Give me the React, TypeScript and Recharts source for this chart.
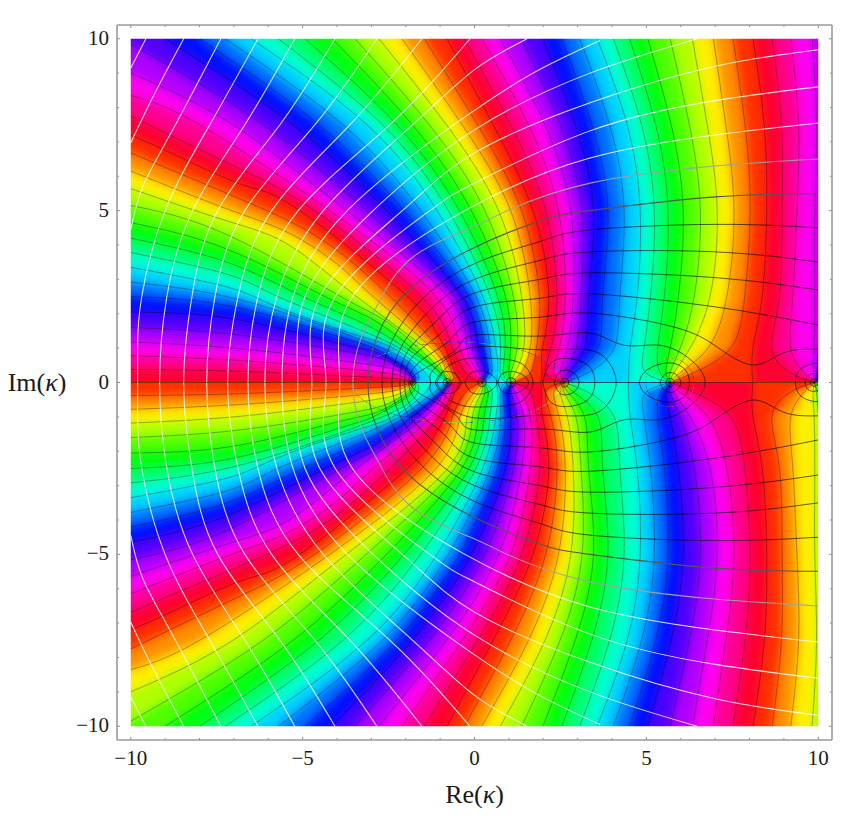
import React from 'react';
import { ScatterChart, Scatter, XAxis, YAxis, Label } from 'recharts';

type P = [number, number];

const tickValues = [-10,-9,-8,-7,-6,-5,-4,-3,-2,-1,0,1,2,3,4,5,6,7,8,9,10];

// unwrapped phase (degrees) of each constant-phase contour in the upper half plane
const contourHues = [202.5,225,247.5,270,292.5,315,337.5,360,382.5,405,427.5,450,472.5,495,517.5,540,562.5,585,607.5,630,652.5,675,697.5,720,742.5,765,787.5,810,832.5,855,877.5,900,922.5,945,967.5,990,1012.5,1035,1057.5,1080,1102.5,1125,1147.5,1170,1192.5,1215,1237.5,1260,1282.5,1305,1327.5,1350,1372.5,1395,1417.5];

const phaseContours: P[][] = [
[[9.88,0],[10,.05]],
[[9.88,0],[10,.12]],
[[9.88,0],[10,.3]],
[[9.88,0],[9.95,.3],[10,.9]],
[[9.88,0],[9.85,.4],[9.88,1],[9.9,2.5],[9.9,5],[9.95,7.5],[9.82,10]],
[[9.88,0],[9.58,.3],[9.2,1],[9.26,2.5],[9.38,5],[9.43,7.5],[9.2,10]],
[[9.88,0],[9.16,.3],[8.65,1],[8.87,2.5],[8.95,5],[8.93,7.5],[8.66,10]],
[[8.1,0],[8.1,1],[8.37,2.5],[8.5,5],[8.43,7.5],[8.1,10]],
[[5.69,0],[6.41,.3],[7.45,1],[7.86,2.5],[8.02,5],[7.87,7.5],[7.52,10]],
[[5.69,0],[6.0,.3],[6.79,1],[7.34,2.5],[7.55,5],[7.31,7.5],[6.95,10]],
[[5.69,0],[5.81,.3],[6.27,1],[6.85,2.5],[7.06,5],[6.77,7.5],[6.34,10]],
[[5.69,0],[5.69,.3],[5.98,1],[6.39,2.5],[6.57,5],[6.25,7.5],[5.69,10]],
[[5.69,0],[5.57,.3],[5.69,1],[5.93,2.5],[6.07,5],[5.72,7.5],[5.04,10]],
[[5.69,0],[5.39,.3],[5.33,1],[5.52,2.5],[5.63,5],[5.27,7.5],[4.51,10]],
[[5.69,0],[4.97,.3],[4.93,1],[5.12,2.5],[5.23,5],[4.86,7.5],[4.04,10]],
[[4.48,0],[4.53,1],[4.73,2.5],[4.82,5],[4.44,7.5],[3.57,10]],
[[2.61,0],[3.33,.3],[4.06,1],[4.23,2.5],[4.35,5],[3.93,7.5],[3.06,10]],
[[2.61,0],[2.91,.3],[3.59,1],[3.73,2.5],[3.88,5],[3.41,7.5],[2.54,10]],
[[2.61,0],[2.73,.3],[3.2,1],[3.32,2.5],[3.46,5],[2.93,7.5],[1.99,10]],
[[2.61,0],[2.61,.3],[2.95,1],[3.1,2.5],[3.13,5],[2.49,7.5],[1.37,10]],
[[2.61,0],[2.49,.3],[2.7,1],[2.87,2.5],[2.8,5],[2.05,7.5],[.75,10]],
[[2.61,0],[2.31,.3],[2.46,1],[2.64,2.5],[2.44,5],[1.57,7.5],[.21,10]],
[[2.61,0],[2.08,.25],[2.22,1],[2.4,2.5],[2.07,5],[1.05,7.5],[-.3,10]],
[[1.92,0],[1.96,.36],[1.98,1],[2.16,2.5],[1.7,5],[.54,7.5],[-.8,10]],
[[1.06,0],[1.6,.25],[1.8,1],[1.89,2.5],[1.37,5],[.09,7.5],[-1.46,10]],
[[1.06,0],[1.36,.3],[1.62,1],[1.62,2.5],[1.05,5],[-.36,7.5],[-2.11,10]],
[[1.06,0],[1.18,.28],[1.43,1],[1.37,2.5],[.7,5],[-.82,7.5],[-2.78,10]],
[[1.06,0],[1.06,.3],[1.24,1],[1.13,2.5],[.3,5],[-1.32,7.5],[-3.48,10]],
[[1.06,0],[1.0,.3],[1.05,1],[.9,2.5],[-.09,5],[-1.81,7.5],[-4.14,10]],
[[1.06,0],[.84,.25],[.89,1],[.67,2.5],[-.44,5],[-2.26,7.5],[-4.93,10]],
[[1.06,0],[.76,.18],[.76,1],[.46,2.5],[-.76,5],[-2.68,7.5],[-5.71,10]],
[[.65,0],[.68,.56],[.62,1],[.24,2.5],[-1.09,5],[-3.13,7.5],[-6.5,10]],
[[.22,0],[.5,.25],[.45,1],[.04,2.5],[-1.57,5],[-3.83,7.5],[-7.25,10]],
[[.22,0],[.4,.3],[.28,1],[-.16,2.5],[-2.05,5],[-4.53,7.5],[-8,10]],
[[.22,0],[.3,.3],[.11,1],[-.37,2.5],[-2.56,5],[-5.28,7.5],[-9,10]],
[[.22,0],[.2,.3],[-.06,1],[-.58,2.5],[-3.15,5],[-6.15,7.5],[-10,9.85]],
[[.22,0],[.1,.3],[-.22,1],[-.78,2.5],[-3.73,5],[-7.03,7.5],[-10,9.0]],
[[.22,0],[-.02,.3],[-.42,1],[-1.12,2.5],[-4.21,5],[-8,7.5],[-10,8.35]],
[[.22,0],[-.22,.25],[-.64,1],[-1.54,2.5],[-4.65,5],[-7,6.3],[-10,7.75]],
[[-.33,0],[-.57,.28],[-.85,1],[-1.2,1.62],[-1.95,2.5],[-5.08,5],[-6.74,5.75],[-8.66,6.6],[-10,7.2]],
[[-.8,0],[-.6,.12],[-.68,.35],[-1.05,1],[-2.45,2.5],[-4,3.85],[-5.4,4.7],[-7.2,5.5],[-10,6.68]],
[[-.8,0],[-.7,.15],[-.85,.4],[-1.25,1],[-2.95,2.5],[-4,3.45],[-5.4,4.35],[-7.2,5.05],[-10,6.15]],
[[-.8,0],[-.75,.15],[-.95,.4],[-1.44,1],[-3.43,2.5],[-5.4,4.0],[-7.2,4.7],[-10,5.64]],
[[-.8,0],[-.82,.15],[-1.05,.45],[-1.63,1],[-2.6,1.8],[-3.89,2.5],[-7.2,4.3],[-10,5.15]],
[[-.8,0],[-.85,.15],[-1.15,.45],[-1.82,1],[-2.9,1.8],[-4.35,2.5],[-7.2,3.88],[-10,4.65]],
[[-.8,0],[-.9,.15],[-1.25,.5],[-2,1],[-3.2,1.7],[-4.99,2.5],[-7.2,3.5],[-10,4.2]],
[[-.8,0],[-.95,.12],[-1.4,.45],[-2.19,1],[-3.5,1.6],[-5.72,2.5],[-7.2,3.15],[-10,3.78]],
[[-1.27,0],[-1.5,.36],[-2.37,1],[-3.62,1.44],[-5.75,2.2],[-7.2,2.78],[-10,3.35]],
[[-1.79,0],[-1.62,.12],[-1.85,.55],[-2.68,1],[-4,1.5],[-7,2.45],[-10,2.92]],
[[-1.79,0],[-1.72,.12],[-2,.45],[-2.95,1],[-4,1.35],[-7,2.2],[-10,2.5]],
[[-1.79,0],[-1.8,.1],[-2,.38],[-2.8,.85],[-4,1.15],[-7,1.85],[-10,2.05]],
[[-1.79,0],[-1.83,.1],[-2,.3],[-2.6,.65],[-4,.95],[-7,1.4],[-10,1.6]],
[[-1.79,0],[-1.95,.17],[-2.4,.4],[-4,.65],[-7,1.0],[-10,1.18]],
[[-1.79,0],[-1.95,.1],[-2.4,.25],[-4,.42],[-7,.65],[-10,.78]],
[[-1.79,0],[-1.95,.05],[-2.4,.12],[-4,.2],[-7,.33],[-10,.38]],
];

// constant-modulus curves, upper half plane
const whiteRings: P[][] = [
[[-10,9.15],[-9.56,10]],
[[-10,6.97],[-9.36,8.3],[-8.46,10]],
[[-10,4.45],[-9.65,5.7],[-8.78,7.35],[-7.38,10]],
[[-9.8,0],[-9.8,1.1],[-9.68,2.5],[-9,5],[-7.7,7.5],[-6.3,10]],
[[-9.16,0],[-8.95,2.5],[-8.2,5],[-6.68,7.5],[-5.23,10]],
[[-8.46,0],[-8.22,2.5],[-7.47,5],[-5.66,7.5],[-4.06,10]],
[[-7.79,0],[-7.55,2.5],[-6.68,5],[-4.64,7.5],[-2.84,10]],
[[-7.18,0],[-6.88,2.5],[-5.9,5],[-3.62,7.5],[-1.53,10]],
[[-6.59,0],[-6.3,2.5],[-5.13,5],[-2.46,7.5],[-.13,10]],
[[-6.1,0],[-5.75,2.5],[-4.4,5],[-1.8,7.5],[0,9.1],[1.53,10]],
[[-5.6,0],[-5.28,2.5],[-3.7,5],[-.6,7.5],[1.7,9],[3.65,9.95]],
[[-5.14,0],[-4.93,2.5],[-2.95,5],[0,7.35],[3.36,9],[6.48,10]],
[[-4.73,0],[-4.5,2.5],[-2.1,5],[0,6.68],[3.36,8.14],[7,9.2],[10,9.68]],
[[-4.32,0],[-4.05,2.5],[-1.3,5],[0,5.8],[3.36,7.32],[7,8.2],[10,8.6]],
[[-3.92,0],[-3.55,2.5],[-.28,5],[3.36,6.53],[7,7.2],[10,7.55]],
];
const grayRing: P[] = [[-3.54,0],[-3.3,1.3],[-2.8,2.3],[-1.79,3.65],[0,4.55],[.95,5],[3.36,5.8],[7,6.3],[10,6.5]];
const dimRing: P[] = [[-3.1,0],[-2.85,1.3],[-1.9,2.7],[0,3.93],[1.9,4.7],[3.36,5],[7,5.4],[10,5.49]];
const blackRings: P[][] = [
[[-2.69,0],[-2.45,1.1],[-1.6,2.35],[0,3.46],[1.9,4.1],[3.36,4.44],[7,4.6],[10,4.5]],
[[-2.4,0],[-2.15,1],[-1.35,2.05],[0,3],[1.9,3.55],[3.36,3.8],[7,3.8],[10,3.5]],
[[-2.17,0],[-1.95,.9],[-1.1,1.8],[0,2.6],[1.9,3],[3.36,3.19],[7,3.05],[10,2.69]],
[[-2.03,0],[-1.8,.75],[-.9,1.5],[0,2.2],[1.9,2.45],[3.36,2.58],[7,2.2],[10,1.67]],
[[-1.91,0],[-1.6,.6],[-.7,1.25],[0,1.76],[1.9,1.9],[3.36,2.02],[5.78,1.62],[7.06,1.03],[8.1,.51],[8.98,.86],[10,.97]],
[[-1.87,0],[-1.55,.35],[-.55,.95],[0,1.38],[1.9,1.35],[3.36,1.44],[4.32,1.09],[5.31,1.09],[6.19,.74],[6.71,0]],
[[-1.27,0],[-1.25,.3],[-.8,.7],[0,1.03],[1.2,1],[2.2,.95],[3.3,.95],[3.9,.6],[4.12,0]],
[[-1.1,0],[-.8,.45],[-.3,.68],[.3,.71],[1.2,.62],[1.6,.3],[1.7,0]],
[[9.33,0],[9.5,.4],[9.88,.55],[10,.53]],
[[9.62,0],[9.7,.2],[9.88,.26],[10,.22]],
[[9.77,0],[9.82,.09],[9.9,.11],[10,.05]],
[[4.79,0],[5,.35],[5.6,.57],[6.1,.4],[6.25,0]],
[[5.4,0],[5.5,.2],[5.7,.29],[5.9,.2],[6,0]],
[[5.57,0],[5.6,.08],[5.69,.12],[5.78,.08],[5.81,0]],
[[1.98,0],[2.2,.55],[2.7,.7],[3.3,.5],[3.5,0]],
[[2.32,0],[2.45,.28],[2.65,.36],[2.9,.27],[3.04,0]],
[[2.5,0],[2.55,.1],[2.61,.13],[2.7,.1],[2.74,0]],
[[.68,0],[.8,.25],[1.06,.32],[1.35,.25],[1.57,0]],
[[.92,0],[.96,.1],[1.06,.13],[1.16,.1],[1.2,0]],
[[-.28,0],[-.1,.28],[.22,.33],[.5,.22],[.65,0]],
[[.1,0],[.14,.09],[.22,.12],[.3,.09],[.34,0]],
[[-1.15,0],[-1,.25],[-.8,.32],[-.55,.25],[-.42,0]],
[[-.92,0],[-.87,.09],[-.8,.12],[-.73,.09],[-.68,0]],
[[-1.87,0],[-1.84,.06],[-1.79,.08],[-1.74,.06],[-1.71,0]],
];
const realAxisLine: P[] = [[-10,0],[10,0]];

const PAD = 10.7;
const OUTER = 12.5;
const DOMAIN = 10.4;
const UNDER = 0.7;

const toData = (c: P[], sign = 1) => c.map(([x, y]) => ({ x, y: sign * y }));

function regionOf(c: P[]): P[] {
  const end = c[c.length - 1];
  const out: P[] = [...c];
  if (end[0] >= 10) { out.push([PAD, end[1]], [PAD, PAD], [-PAD, PAD]); }
  else if (end[1] >= 10) { out.push([end[0], PAD], [-PAD, PAD]); }
  else { out.push([-PAD, end[1]]); }
  out.push([-PAD, -UNDER], [c[0][0], -UNDER]);
  return out;
}
const wrap = (h: number) => ((h % 360) + 360) % 360;
const soft = (h: number) => `hsl(${wrap(h)},100%,50%)`;
const sharp = (h: number) => `hsla(${wrap(h)},100%,50%,1)`;

// a ring that crosses the real axis is one smooth curve through both half planes
function fullRing(c: P[]): P[] {
  const first = c[0];
  const last = c[c.length - 1];
  const mirrored = c.map(([x, y]) => [x, -y] as P);
  if (first[1] === 0 && last[1] === 0) {
    return [...c, ...mirrored.reverse().slice(1)];
  }
  if (first[1] === 0) return [...mirrored.reverse().slice(0, -1), ...c];
  return c;
}
const mirroredPart = (c: P[]): P[] | null => (c[0][1] === 0 ? null : c.map(([x, y]) => [x, -y] as P));

const NoDot = () => <g />;

const UP_WIDTH = 1;
const DOWN_WIDTH = 1.01;
const fillBand = (key: string, pts: P[], color: string, sign = 1) => (
  <Scatter key={key} data={toData(pts, sign)} isAnimationActive={false} shape={NoDot} legendType="none"
    line={{ fill: color, stroke: color, strokeWidth: sign > 0 ? UP_WIDTH : DOWN_WIDTH }} lineType="joint" lineJointType="linear" />
);
const stroke = (key: string, pts: P[], color: string, width: number, opacity: number, sign = 1) => (
  <Scatter key={key} data={toData(pts, sign)} isAnimationActive={false} shape={NoDot} legendType="none"
    line={{ fill: 'none', stroke: color, strokeWidth: width, strokeOpacity: opacity }} lineType="joint" lineJointType="natural" />
);
const ring = (key: string, c: P[], color: string, width: number, opacity: number) => {
  const m = mirroredPart(c);
  return (
    <React.Fragment key={key}>
      {stroke(`${key}a`, fullRing(c), color, width, opacity)}
      {m && stroke(`${key}b`, m, color, width, opacity)}
    </React.Fragment>
  );
};

const LABEL_FONT = '"Liberation Serif", "Times New Roman", serif';

function makeTick(side: 'bottom' | 'left' | 'top' | 'right') {
  return (props: any) => {
    const { x, y, payload } = props;
    const v = payload.value as number;
    const major = v % 5 === 0;
    const len = major ? 3 : 2;
    const col = '#8c8c8c';
    const text = v < 0 ? `\u2212${-v}` : `${v}`;
    if (side === 'bottom') return <g><line x1={x} x2={x} y1={y} y2={y - len} stroke={col} />{major && <text x={x} y={y + 25} textAnchor="middle" fontSize={21} fontFamily={LABEL_FONT} fill="#1a1a1a">{text}</text>}</g>;
    if (side === 'left') return <g><line x1={x} x2={x + len} y1={y} y2={y} stroke={col} />{major && <text x={x - 8} y={y + 6} textAnchor="end" fontSize={21} fontFamily={LABEL_FONT} fill="#1a1a1a">{text}</text>}</g>;
    if (side === 'top') return <line x1={x} x2={x} y1={y} y2={y + len} stroke={col} />;
    return <line x1={x} x2={x - len} y1={y} y2={y} stroke={col} />;
  };
}

const axisBase = {
  type: 'number' as const,
  domain: [-DOMAIN, DOMAIN] as [number, number],
  ticks: tickValues,
  interval: 0 as const,
  tickSize: 0,
  tickMargin: 0,
  tickLine: false,
  allowDataOverflow: true,
  axisLine: { stroke: '#9a9a9a', strokeWidth: 1.6 },
  zIndex: 2000,
};

const XTitle = (props: any) => {
  const vb = props.viewBox;
  return <text x={vb.x + vb.width / 2} y={vb.y + 63} textAnchor="middle" fontSize={26} fontFamily={LABEL_FONT} fill="#1a1a1a">Re(<tspan fontStyle="italic">{'\u03BA'}</tspan>)</text>;
};
const YTitle = (props: any) => {
  const vb = props.viewBox;
  return <text x={vb.x - 20} y={vb.y + vb.height / 2 + 8.5} textAnchor="middle" fontSize={26} fontFamily={LABEL_FONT} fill="#1a1a1a">Im(<tspan fontStyle="italic">{'\u03BA'}</tspan>)</text>;
};

export default function App() {
  const maskRects: P[][] = [
    [[-OUTER, 10], [OUTER, 10], [OUTER, OUTER], [-OUTER, OUTER]],
    [[-OUTER, -10], [OUTER, -10], [OUTER, -OUTER], [-OUTER, -OUTER]],
    [[-OUTER, -OUTER], [-10, -OUTER], [-10, OUTER], [-OUTER, OUTER]],
    [[OUTER, -OUTER], [10, -OUTER], [10, OUTER], [OUTER, OUTER]],
  ];
  const baseRect: P[] = [[-PAD, -PAD], [PAD, -PAD], [PAD, PAD], [-PAD, PAD]];
  const css = `
    path[fill^="hsl("]{filter:blur(5px)}
    path[fill^="hsla("]{filter:blur(1.5px);mask:url(#detailMask)}
    path[fill^="hsl"][stroke-width="${UP_WIDTH}"]{clip-path:url(#upHalf)}
    path[fill^="hsl"][stroke-width="${DOWN_WIDTH}"]{clip-path:url(#downHalf)}
  `;
  return (
    <div style={{ width: 840, height: 800 }}>
      <style>{css}</style>
      <ScatterChart width={840} height={800} margin={{ top: 7, right: 6, bottom: 8, left: 49 }}>
        <defs>
          <clipPath id="upHalf" clipPathUnits="userSpaceOnUse"><rect x="-50" y="-50" width="940" height="424.5" /></clipPath>
          <clipPath id="downHalf" clipPathUnits="userSpaceOnUse"><rect x="-50" y="374.5" width="940" height="500" /></clipPath>
          <mask id="detailMask" maskUnits="userSpaceOnUse" x="0" y="0" width="840" height="800">
            <ellipse cx="450" cy="374.5" rx="105" ry="40" fill="#fff" />
            <circle cx="662" cy="374.5" r="24" fill="#fff" />
            <circle cx="806" cy="374.5" r="20" fill="#fff" />
          </mask>
        </defs>
        <XAxis {...axisBase} dataKey="x" height={60} orientation="bottom" tick={makeTick('bottom')}>
          <Label content={XTitle} />
        </XAxis>
        <XAxis {...axisBase} dataKey="x" xAxisId="top" height={10} orientation="top" tick={makeTick('top')} />
        <YAxis {...axisBase} dataKey="y" width={60} orientation="left" tick={makeTick('left')}>
          <Label content={YTitle} />
        </YAxis>
        <YAxis {...axisBase} dataKey="y" yAxisId="right" width={10} orientation="right" tick={makeTick('right')} />

        {fillBand('base', baseRect, soft(180))}
        {phaseContours.map((c, i) => fillBand(`up${i}`, regionOf(c), soft(contourHues[i] + 11.25)))}
        {phaseContours.map((c, i) => fillBand(`dn${i}`, regionOf(c), soft(-(contourHues[i] + 11.25)), -1))}
        {phaseContours.map((c, i) => fillBand(`ups${i}`, regionOf(c), sharp(contourHues[i] + 11.25)))}
        {phaseContours.map((c, i) => fillBand(`dns${i}`, regionOf(c), sharp(-(contourHues[i] + 11.25)), -1))}

        {phaseContours.map((c, i) => stroke(`pu${i}`, c, '#000', 0.8, 0.4))}
        {phaseContours.map((c, i) => stroke(`pd${i}`, c, '#000', 0.8, 0.4, -1))}

        {whiteRings.map((c, i) => ring(`w${i}`, c, '#fff', 1.05, 0.85))}
        {ring('g', grayRing, '#a0a0a0', 1.05, 1)}
        {ring('d', dimRing, '#555', 1.05, 1)}
        {blackRings.map((c, i) => ring(`b${i}`, c, '#000', 0.95, 0.65))}
        {stroke('axis', realAxisLine, '#000', 0.9, 0.6)}

        {maskRects.map((r, i) => (
          <Scatter key={`m${i}`} data={toData(r)} isAnimationActive={false} shape={NoDot} legendType="none"
            line={{ fill: '#ffffff', stroke: 'none' }} lineType="joint" lineJointType="linear" />
        ))}
      </ScatterChart>
    </div>
  );
}
